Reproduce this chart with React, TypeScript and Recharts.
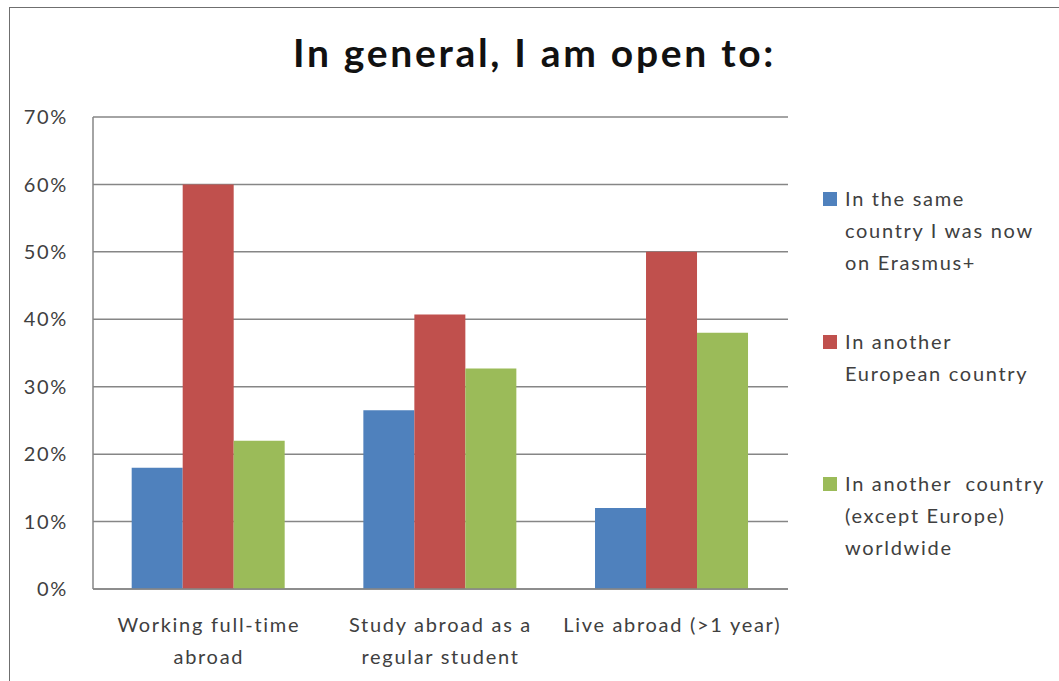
import React from "react";
import { BarChart, Bar, XAxis, YAxis, CartesianGrid } from "recharts";

const categories = [
  "Working full-time abroad",
  "Study abroad as a regular student",
  "Live abroad (>1 year)",
];
// how each category label wraps under the axis
const categoryLines = [
  ["Working full-time", "abroad"],
  ["Study abroad as a", "regular student"],
  ["Live abroad (>1 year)"],
];

const sameCountry = [18, 26.5, 12];
const otherEuropean = [60, 40.7, 50];
const worldwide = [22, 32.7, 38];

const yTicks = [0, 10, 20, 30, 40, 50, 60, 70];

const series = [
  { key: "same", name: ["In the same", "country I was now", "on Erasmus+"], color: "#4F81BD" },
  { key: "europe", name: ["In another", "European country"], color: "#C0504D" },
  { key: "world", name: ["In another  country", "(except Europe)", "worldwide"], color: "#9BBB59" },
];

const data = categories.map((c, i) => ({
  name: c,
  same: sameCountry[i],
  europe: otherEuropean[i],
  world: worldwide[i],
}));

const FONT = "Lato, 'Open Sans', sans-serif";
const TEXT = "#404040";
const GRID = "#868686";
const SPACING = 1.7;

const CategoryTick = (props: any) => {
  const { x, y, index } = props;
  const lines = categoryLines[index] || [props.payload.value];
  return (
    <g transform={`translate(${x},${y})`}>
      {lines.map((l, i) => (
        <text
          key={i}
          x={0}
          y={27 + i * 32}
          textAnchor="middle"
          dominantBaseline="central"
          fill={TEXT}
          fontSize={20}
          fontFamily={FONT}
          letterSpacing={SPACING}
        >
          {l}
        </text>
      ))}
    </g>
  );
};

// legend tops, one per series
const legendTops = [182, 325, 467];

export default function App() {
  return (
    <div
      style={{
        position: "absolute",
        left: 0,
        top: 0,
        width: 1059,
        height: 681,
        background: "#fff",
        overflow: "hidden",
        fontFamily: FONT,
      }}
    >
      <div
        style={{
          position: "absolute",
          left: 9,
          top: 7,
          width: 1100,
          height: 700,
          borderLeft: "1px solid #6f6f6f",
          borderTop: "1px solid #6f6f6f",
        }}
      />
      <div
        style={{
          position: "absolute",
          left: 0,
          width: 1069,
          top: 24,
          textAlign: "center",
          fontSize: 39,
          fontWeight: 700,
          letterSpacing: 2.7,
          color: "#111",
          lineHeight: "56px",
        }}
      >
        In general, I am open to:
      </div>

      <div style={{ position: "absolute", left: 0, top: 0 }}>
        <BarChart
          width={1059}
          height={681}
          data={data}
          margin={{ top: 117, right: 271, left: 0, bottom: 0 }}
          barCategoryGap="16.7%"
          barGap={0}
        >
          <CartesianGrid vertical={false} stroke={GRID} strokeWidth={1.5} />
          <XAxis
            dataKey="name"
            height={92}
            axisLine={{ stroke: GRID, strokeWidth: 1.5 }}
            tickLine={false}
            tick={<CategoryTick />}
            interval={0}
          />
          <YAxis
            width={93}
            domain={[0, 70]}
            ticks={yTicks}
            tickFormatter={(v: number) => `${v}%`}
            axisLine={{ stroke: GRID, strokeWidth: 1.5 }}
            tickLine={false}
            tickSize={0}
            tickMargin={25}
            tick={{ fill: TEXT, fontSize: 20, fontFamily: FONT, letterSpacing: SPACING }}
          />
          {series.map((s) => (
            <Bar key={s.key} dataKey={s.key} fill={s.color} isAnimationActive={false} />
          ))}
        </BarChart>
      </div>

      {series.map((s, i) => (
        <div
          key={s.key}
          style={{
            position: "absolute",
            left: 823,
            top: legendTops[i],
            color: TEXT,
            fontSize: 20,
            letterSpacing: SPACING,
          }}
        >
          <div
            style={{
              position: "absolute",
              left: 0,
              top: 10,
              width: 14,
              height: 14,
              background: s.color,
            }}
          />
          <div style={{ marginLeft: 22, lineHeight: "32px", whiteSpace: "pre" }}>
            {s.name.map((l, j) => (
              <div key={j}>{l}</div>
            ))}
          </div>
        </div>
      ))}
    </div>
  );
}
